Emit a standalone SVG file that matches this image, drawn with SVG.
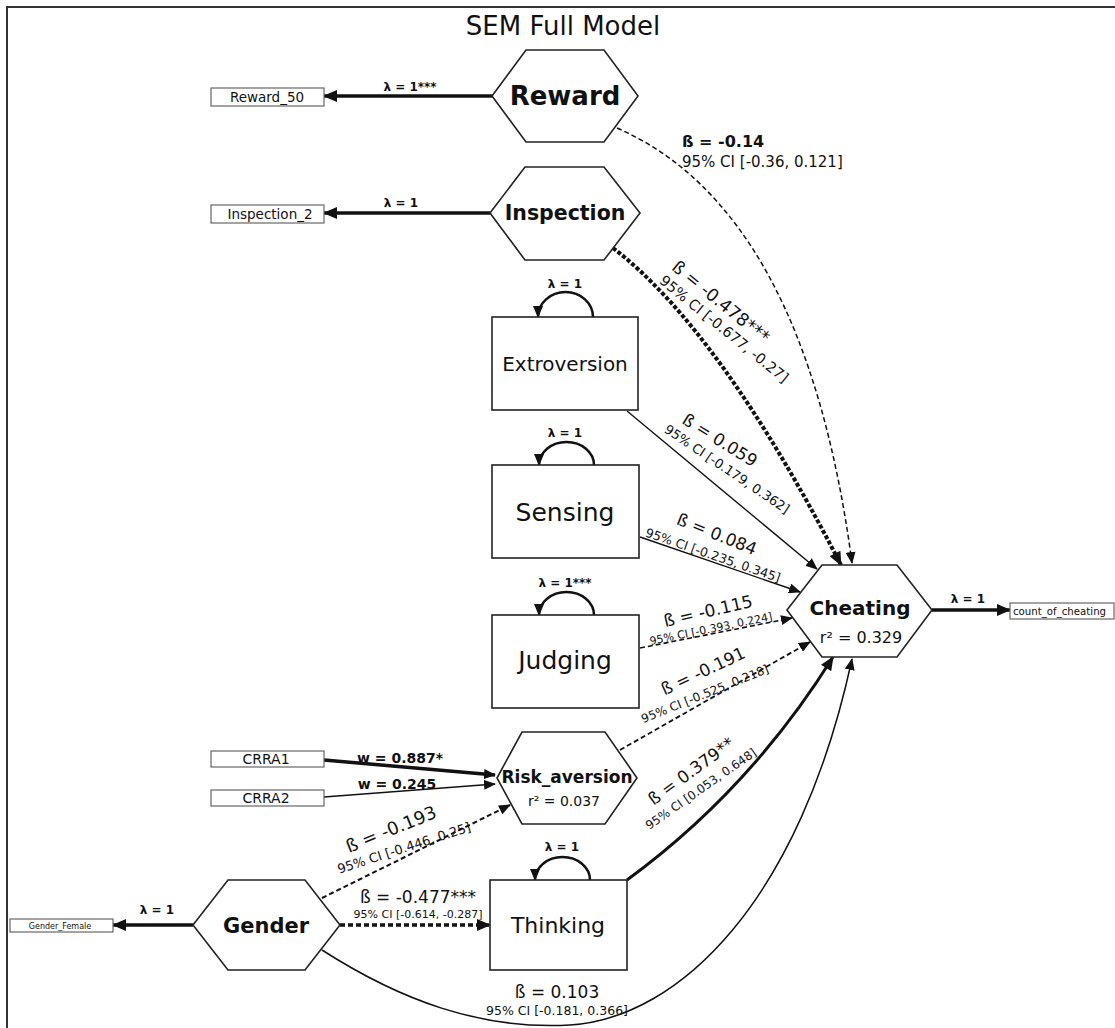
<svg xmlns="http://www.w3.org/2000/svg" width="1115" height="1028" viewBox="0 0 1115 1028">
<style>
text{font-family:"DejaVu Sans","Liberation Sans",sans-serif;fill:#111}
.node{fill:#fff;stroke:#222;stroke-width:1.6}
.obs{fill:#fff;stroke:#666;stroke-width:1.2}
.e{fill:none;stroke:#111}
.lab{font-size:12px;font-weight:bold;text-anchor:middle}
.c{text-anchor:middle}
.m{text-anchor:middle;dominant-baseline:central}
</style>
<defs>
<marker id="ah" viewBox="0 0 12 10" refX="11" refY="5" markerWidth="12" markerHeight="10" markerUnits="userSpaceOnUse" orient="auto"><path d="M0,0 L12,5 L0,10 z" fill="#111"/></marker>
<marker id="ahL" viewBox="0 0 14 12" refX="13" refY="6" markerWidth="15" markerHeight="12" markerUnits="userSpaceOnUse" orient="auto"><path d="M0,0 L14,6 L0,12 z" fill="#111"/></marker>
</defs>
<rect width="1115" height="1028" fill="#fff"/>
<path d="M7,1028 V7 H1115" fill="none" stroke="#333" stroke-width="2"/>
<text x="563" y="35" class="c" font-size="26">SEM Full Model</text>

<g id="connectors">
  <path class="e" d="M492,96 H324" stroke-width="3.5" marker-end="url(#ahL)"/>
  <path class="e" d="M490,213 H324" stroke-width="3.5" marker-end="url(#ahL)"/>
  <path class="e" d="M617,128 Q805,210 852,563" stroke-width="1.5" stroke-dasharray="5 3" marker-end="url(#ah)"/>
  <path class="e" d="M613,248 Q720,330 841,565" stroke-width="4" stroke-dasharray="4 2" marker-end="url(#ahL)"/>
  <path class="e" d="M593,317 A27.5,25 0 0 0 538,317" stroke-width="2.5" marker-end="url(#ah)"/>
  <path class="e" d="M627,411 L817,569" stroke-width="1.4" marker-end="url(#ah)"/>
  <path class="e" d="M594,465 A27.5,23 0 0 0 539,465" stroke-width="2.5" marker-end="url(#ah)"/>
  <path class="e" d="M640,537 L800,592" stroke-width="1.4" marker-end="url(#ah)"/>
  <path class="e" d="M594,615 A27.5,23 0 0 0 539,615" stroke-width="2.5" marker-end="url(#ah)"/>
  <path class="e" d="M640,648 L792,618" stroke-width="1.6" stroke-dasharray="5 3" marker-end="url(#ah)"/>
  <path class="e" d="M620,750 L810,642" stroke-width="1.8" stroke-dasharray="5 3" marker-end="url(#ah)"/>
  <path class="e" d="M324,760 L495,775" stroke-width="3.5" marker-end="url(#ah)"/>
  <path class="e" d="M324,797 L495,784" stroke-width="1.5" marker-end="url(#ah)"/>
  <path class="e" d="M322,898 L510,805" stroke-width="2" stroke-dasharray="5 3" marker-end="url(#ah)"/>
  <path class="e" d="M340,925 H490" stroke-width="3.5" stroke-dasharray="5 3" marker-end="url(#ahL)"/>
  <path class="e" d="M193,925 H113" stroke-width="3.5" marker-end="url(#ahL)"/>
  <path class="e" d="M590,880 A27.5,23 0 0 0 535,880" stroke-width="2.5" marker-end="url(#ah)"/>
  <path class="e" d="M627,880 Q750,790 833,657" stroke-width="3" marker-end="url(#ahL)"/>
  <path class="e" d="M322,950 C400,1000 480,1030 570,1025 C680,1018 800,900 852,659" stroke-width="1.5" marker-end="url(#ah)"/>
  <path class="e" d="M932,610 H1010" stroke-width="3.5" marker-end="url(#ahL)"/>

  <text x="410" y="91" class="lab">λ = 1***</text>
  <text x="401" y="207" class="lab">λ = 1</text>
  <text x="682" y="147" font-size="16" font-weight="bold">ß = -0.14</text>
  <text x="682" y="167" font-size="15">95% CI [-0.36, 0.121]</text>
  <text class="m" font-size="17.5" transform="translate(721,302) rotate(39)">ß = -0.478***</text>
  <text class="m" font-size="14.5" transform="translate(724,329) rotate(39)">95% CI [-0.677, -0.27]</text>
  <text x="565" y="288" class="lab">λ = 1</text>
  <text class="m" font-size="17" transform="translate(720,440) rotate(32)">ß = 0.059</text>
  <text class="m" font-size="13" transform="translate(727,469) rotate(34)">95% CI [-0.179, 0.362]</text>
  <text x="565" y="437" class="lab">λ = 1</text>
  <text class="m" font-size="17" transform="translate(717,534) rotate(22)">ß = 0.084</text>
  <text class="m" font-size="12.5" transform="translate(713,555) rotate(19)">95% CI [-0.235, 0.345]</text>
  <text x="565" y="587" class="lab">λ = 1***</text>
  <text class="m" font-size="17" transform="translate(708,611) rotate(-13)">ß = -0.115</text>
  <text class="m" font-size="11" transform="translate(711,629) rotate(-11.5)">95% CI [-0.393, 0.224]</text>
  <text class="m" font-size="17" transform="translate(703,671) rotate(-25)">ß = -0.191</text>
  <text class="m" font-size="12" transform="translate(705,694) rotate(-22)">95% CI [-0.525, 0.218]</text>
  <text class="m" font-size="17" transform="translate(691,771) rotate(-36)">ß = 0.379**</text>
  <text class="m" font-size="12" transform="translate(701,789) rotate(-35)">95% CI [0.053, 0.648]</text>
  <text x="400" y="763" class="c" font-size="14" font-weight="bold">w = 0.887*</text>
  <text x="397" y="789" class="c" font-size="14" font-weight="bold">w = 0.245</text>
  <text class="m" font-size="18" transform="translate(391,829) rotate(-22)">ß = -0.193</text>
  <text class="m" font-size="13" transform="translate(404,848) rotate(-18)">95% CI [-0.446, 0.25]</text>
  <text x="418" y="903" class="c" font-size="17">ß = -0.477***</text>
  <text x="418" y="918" class="c" font-size="11">95% CI [-0.614, -0.287]</text>
  <text x="157" y="914" class="lab">λ = 1</text>
  <text x="562" y="851" class="lab">λ = 1</text>
  <text x="557" y="998" class="c" font-size="17">ß = 0.103</text>
  <text x="557" y="1015" class="c" font-size="12.5">95% CI [-0.181, 0.366]</text>
  <text x="968" y="603" class="lab">λ = 1</text>
</g>

<g id="n-reward"><polygon class="node" points="492,96 526,50 604,50 638,96 604,142 526,142"/><text x="565" y="105" class="c" font-size="26" font-weight="bold">Reward</text></g>
<g id="n-reward50"><rect class="obs" x="211" y="88" width="113" height="18"/><text x="267" y="102" class="c" font-size="13.5">Reward_50</text></g>
<g id="n-inspection"><polygon class="node" points="490,213 525,167 604,167 640,213 604,260 525,260"/><text x="565" y="220" class="c" font-size="20.5" font-weight="bold">Inspection</text></g>
<g id="n-inspection2"><rect class="obs" x="211" y="205" width="113" height="18"/><text x="270" y="219" class="c" font-size="13.5">Inspection_2</text></g>
<g id="n-extroversion"><rect class="node" x="492" y="317" width="146" height="93"/><text x="565" y="371" class="c" font-size="20">Extroversion</text></g>
<g id="n-sensing"><rect class="node" x="492" y="465" width="147" height="93"/><text x="565" y="521" class="c" font-size="25">Sensing</text></g>
<g id="n-judging"><rect class="node" x="492" y="615" width="147" height="93"/><text x="565" y="669" class="c" font-size="25">Judging</text></g>
<g id="n-cheating"><polygon class="node" points="787,610 822,565 897,565 932,610 897,657 822,657"/><text x="860" y="615" class="c" font-size="20" font-weight="bold">Cheating</text><text x="861" y="643" class="c" font-size="16">r² = 0.329</text></g>
<g id="n-count"><rect class="obs" x="1010" y="603" width="104" height="16"/><text x="1013" y="615" font-size="10.2">count_of_cheating</text></g>
<g id="n-crra1"><rect class="obs" x="211" y="751" width="113" height="16"/><text x="266" y="764" class="c" font-size="14">CRRA1</text></g>
<g id="n-crra2"><rect class="obs" x="211" y="790" width="113" height="16"/><text x="266" y="803" class="c" font-size="14">CRRA2</text></g>
<g id="n-risk"><polygon class="node" points="497,778 522,732 605,732 637,778 605,824 522,824"/><text x="567" y="783" class="c" font-size="17" font-weight="bold">Risk_aversion</text><text x="564" y="806" class="c" font-size="14">r² = 0.037</text></g>
<g id="n-gender"><polygon class="node" points="193,925 228,880 305,880 340,925 305,970 228,970"/><text x="266" y="933" class="c" font-size="21" font-weight="bold">Gender</text></g>
<g id="n-genderfemale"><rect class="obs" x="10" y="919" width="103" height="13"/><text x="60" y="929" class="c" font-size="8">Gender_Female</text></g>
<g id="n-thinking"><rect class="node" x="490" y="880" width="137" height="90"/><text x="558" y="933" class="c" font-size="22">Thinking</text></g>
</svg>
